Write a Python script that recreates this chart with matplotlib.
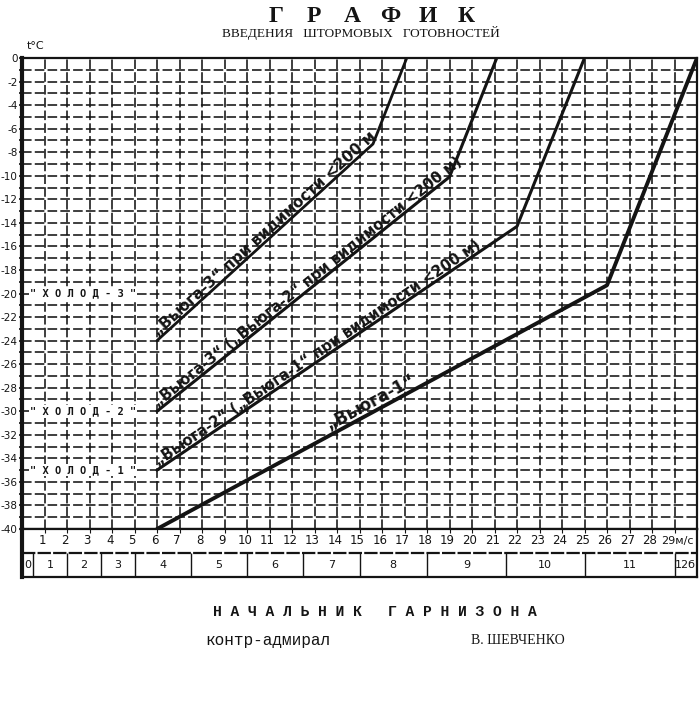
import numpy as np
import matplotlib.pyplot as plt

plt.rcParams['axes.unicode_minus'] = False

# wind speed (m/s) and temperature (°C) at the break points of each curve
v1_wind = [6, 26.0, 30.0]
v1_temp = [-40, -19.3, 0]
v2_wind = [6, 22.0, 25.0]
v2_temp = [-35, -14.3, 0]
v3_wind = [6, 19.0, 21.1]
v3_temp = [-30, -10.1, 0]
v3v_wind = [6, 15.6, 17.1]
v3v_temp = [-24, -7.3, 0]

curve_labels = ['„Вьюга-1“',
                '„Вьюга-2“ („Вьюга-1“ при видимости <200 м)',
                '„Вьюга-3“ („Вьюга-2“ при видимости <200 м)',
                '„Вьюга-3“ при видимости <200 м']

holod_labels = ['" Х О Л О Д - 3 "', '" Х О Л О Д - 2 "', '" Х О Л О Д - 1 "']
holod_temp = [-20, -30, -35]

wind_ticks = list(range(1, 29))
beaufort_edges = [0, 0.5, 2, 3.5, 5, 7.5, 10, 12.5, 15, 18, 21.5, 25, 29, 30]
beaufort_labels = ['0', '1', '2', '3', '4', '5', '6', '7', '8', '9', '10', '11', '12б']

W, H = 700, 710
INK = '#141414'


def px(x, y):
    # pixel position of the scan -> figure fraction
    return x / W, 1 - y / H


def draw_curve(ax, wind, temp, label, start, lw=2.2, fs=10.5, off=0.25):
    ax.plot(wind, temp, color=INK, lw=lw, solid_capstyle='round', zorder=3)
    # label sits along the first (long) segment
    dx = wind[1] - wind[0]
    dy = temp[1] - temp[0]
    ang = np.degrees(np.arctan2(dy, dx))
    y0 = temp[0] + dy * (start - wind[0]) / dx + off
    ax.text(start, y0, label, rotation=ang, rotation_mode='anchor',
            transform_rotates_text=True, ha='left', va='baseline',
            fontsize=fs, fontweight='bold', color=INK, zorder=4)


def main():
    fig = plt.figure(figsize=(7, 7.1), dpi=100)
    fig.patch.set_facecolor('white')

    l, b = px(22, 529)
    ax = fig.add_axes([l, b, 675 / W, 471 / H])
    tl, tb_ = px(22, 577)
    tb = fig.add_axes([tl, tb_, 675 / W, 48 / H])

    # --- main grid
    ax.set_xlim(0, 30)
    ax.set_ylim(-40, 0)
    ax.set_xticks(range(1, 30))
    ax.tick_params(axis='x', length=0, labelbottom=False)
    ax.set_yticks(range(-40, 1, 2))
    ax.set_yticks(range(-39, 0, 2), minor=True)
    ax.tick_params(axis='y', which='both', length=2.5, width=1.2, color=INK,
                   labelsize=7.5, pad=0.5, labelcolor=INK)
    ax.grid(which='both', color=INK, linestyle=(0, (6, 2)), linewidth=1.15)
    for side in ['top', 'right', 'bottom']:
        ax.spines[side].set_linewidth(1.6)
        ax.spines[side].set_color(INK)
    ax.spines['left'].set_linewidth(3)
    ax.spines['left'].set_color(INK)

    draw_curve(ax, v1_wind, v1_temp, curve_labels[0], 13.7, lw=2.8, fs=12, off=0.4)
    draw_curve(ax, v2_wind, v2_temp, curve_labels[1], 6.05)
    draw_curve(ax, v3_wind, v3_temp, curve_labels[2], 6.05)
    draw_curve(ax, v3v_wind, v3v_temp, curve_labels[3], 6.05, lw=2.0, fs=11)

    for lab, t in zip(holod_labels, holod_temp):
        ax.text(0.35, t, lab, ha='left', va='center', fontsize=7.5,
                family='DejaVu Sans Mono', fontweight='bold', color=INK, zorder=5,
                bbox=dict(fc='white', ec='none', pad=1.0))

    fig.text(*px(27, 46), 't°C', fontsize=8, color=INK, va='center')

    # --- wind speed / Beaufort table
    tb.set_xlim(0, 30)
    tb.set_ylim(0, 2)
    tb.set_xticks(range(1, 30))
    tb.set_yticks([])
    tb.tick_params(axis='x', top=True, bottom=False, direction='in', length=3,
                   color=INK, labelbottom=False)
    tb.axhline(1, color=INK, lw=1.6, linestyle=(0, (6, 1)))
    for side in ['top', 'right', 'bottom']:
        tb.spines[side].set_linewidth(1.6)
        tb.spines[side].set_color(INK)
    tb.spines['left'].set_linewidth(3)
    tb.spines['left'].set_color(INK)

    for v in wind_ticks:
        tb.text(v - 0.1, 1.5, str(v), ha='center', va='center', fontsize=8.5, color=INK)
    tb.text(28.4, 1.5, '29м/с', ha='left', va='center', fontsize=8, color=INK)

    tb.vlines(beaufort_edges[1:-1], 0, 1, color=INK, lw=1.0)
    for i, lab in enumerate(beaufort_labels):
        c = (beaufort_edges[i] + beaufort_edges[i + 1]) / 2
        tb.text(c, 0.5, lab, ha='center', va='center', fontsize=8, color=INK)

    # --- heading
    title = 'ГРАФИК'
    for xp, ch in zip(np.linspace(276, 466, len(title)), title):
        fig.text(*px(xp, 16), ch, ha='center', va='center', fontsize=17,
                 family='Liberation Serif', fontweight='bold', color=INK)
    fig.text(*px(361, 33), 'ВВЕДЕНИЯ   ШТОРМОВЫХ   ГОТОВНОСТЕЙ', ha='center',
             va='center', fontsize=9.5, family='Liberation Serif', color=INK)

    # --- signature block
    fig.text(*px(375, 612), 'Н А Ч А Л Ь Н И К   Г А Р Н И З О Н А', ha='center',
             va='center', fontsize=10.5, family='Liberation Mono', fontweight='bold',
             color=INK)
    fig.text(*px(205, 640), 'контр-адмирал', ha='left', va='center', fontsize=11.5,
             family='Liberation Mono', color=INK)
    fig.text(*px(565, 640), 'В. ШЕВЧЕНКО', ha='right', va='center', fontsize=10,
             family='Liberation Serif', color=INK)

    fig.savefig('out.png', dpi=100)
    plt.close(fig)


if __name__ == '__main__':
    main()
